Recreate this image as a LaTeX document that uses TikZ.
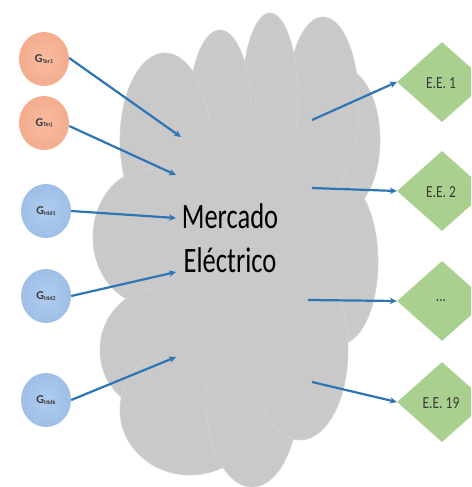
\documentclass[tikz,border=0pt]{standalone}
\usepackage{fontspec}
\setmainfont{Carlito}
\usetikzlibrary{shapes.geometric,arrows.meta}
\definecolor{cloudfill}{HTML}{C9C9C9}
\definecolor{cloudedge}{HTML}{D2D2D2}
\definecolor{arrowblue}{HTML}{2E75B6}
\definecolor{terfill}{HTML}{F4AC8C}
\definecolor{terin}{HTML}{F7BCA2}
\definecolor{hidfill}{HTML}{9EBFE8}
\definecolor{hidin}{HTML}{B0CCEE}
\definecolor{eefill}{HTML}{A9D08E}
\definecolor{txtgray}{HTML}{3A3A3A}
\tikzset{
  lobe/.style={fill=cloudfill, draw=cloudedge, line width=0.7pt},
  gen/.style={ellipse, minimum width=50pt, minimum height=54pt, inner sep=0pt,
    text=txtgray, font=\fontsize{12}{13}\selectfont\bfseries},
  ter/.style={gen, inner color=terin, outer color=terfill},
  hid/.style={gen, inner color=hidin, outer color=hidfill},
  ee/.style={diamond, fill=eefill, minimum width=90pt, minimum height=80pt,
    inner sep=0pt, aspect=1.125},
  eetext/.style={font=\fontsize{13.5}{14}\selectfont, text=txtgray, yscale=1.25, transform shape},
  flow/.style={draw=arrowblue, line width=2.2pt, -{Stealth[length=7pt,width=6.5pt]}},
}
\newcommand{\gsub}[1]{G\raisebox{-0.3pt}{\fontsize{6}{6}\selectfont #1}}
\begin{document}
\begin{tikzpicture}[x=1pt,y=-1pt]
\useasboundingbox (0,0) rectangle (471,487);
\clip (0,0) rectangle (471,487);
\fill[white] (0,0) rectangle (471,487);
% cloud lobes
\path[lobe] (342,140) ellipse [x radius=38, y radius=72];
\path[lobe] (340,262) ellipse [x radius=38, y radius=82];
\path[lobe] (323,105) ellipse [x radius=36, y radius=88];
\path[lobe] (270,100) ellipse [x radius=28, y radius=87];
\path[lobe] (220,112) ellipse [x radius=31, y radius=82];
\path[lobe] (165,140) ellipse [x radius=45, y radius=87];
\path[lobe] (150,237) ellipse [x radius=57, y radius=68];
\path[lobe] (160,350) ellipse [x radius=60, y radius=62];
\path[lobe] (190,410) ellipse [x radius=70, y radius=65];
\path[lobe] (252,400) ellipse [x radius=46, y radius=87];
\path[lobe] (300,350) ellipse [x radius=48, y radius=90];
\fill[cloudfill] (245,250) ellipse [x radius=95, y radius=140];
\node[font=\fontsize{26.5}{33}\selectfont, align=center, yscale=1.35, transform shape] (mercado) at (230,238) {Mercado\\Eléctrico};
% generators
\node[ter] (t1) at (44,59) {\gsub{Ter1}};
\node[ter] (tj) at (44,123) {\gsub{Terj}};
\node[hid] (h1) at (46,211) {\gsub{Hid1}};
\node[hid] (h2) at (46,296) {\gsub{Hid2}};
\node[hid] (hk) at (46,400) {\gsub{Hidk}};
% consumers
\node[ee] (e1) at (442,82) {};
\node[ee] (e2) at (442,191) {};
\node[ee] (e3) at (442,301) {};
\node[ee] (e4) at (442,402) {};
\node[eetext] (l1) at (441,83) {E.E. 1};
\node[eetext] (l2) at (441,192) {E.E. 2};
\node[eetext] (l3) at (441,301) {...};
\node[eetext] (l4) at (441,403) {E.E. 19};
% in-cloud ends
\coordinate (a1) at (181,137);
\coordinate (a2) at (176,175);
\coordinate (a3) at (176,218);
\coordinate (a4) at (176,272);
\coordinate (a5) at (176,357);
\coordinate (b1) at (312,120);
\coordinate (b2) at (312,188);
\coordinate (b3) at (308,300);
\coordinate (b4) at (312,382);
\draw[flow] (t1.east) ++(0,-1) -- (a1);
\draw[flow] (tj.east) ++(0,3) -- (a2);
\draw[flow] (h1.east) -- (a3);
\draw[flow] (h2.east) -- (a4);
\draw[flow] (hk.east) -- (a5);
\draw[flow] (b1) -- (e1.west);
\draw[flow] (b2) -- (e2.west);
\draw[flow] (b3) -- (e3.west);
\draw[flow] (b4) -- (e4.west);
\end{tikzpicture}
\end{document}
